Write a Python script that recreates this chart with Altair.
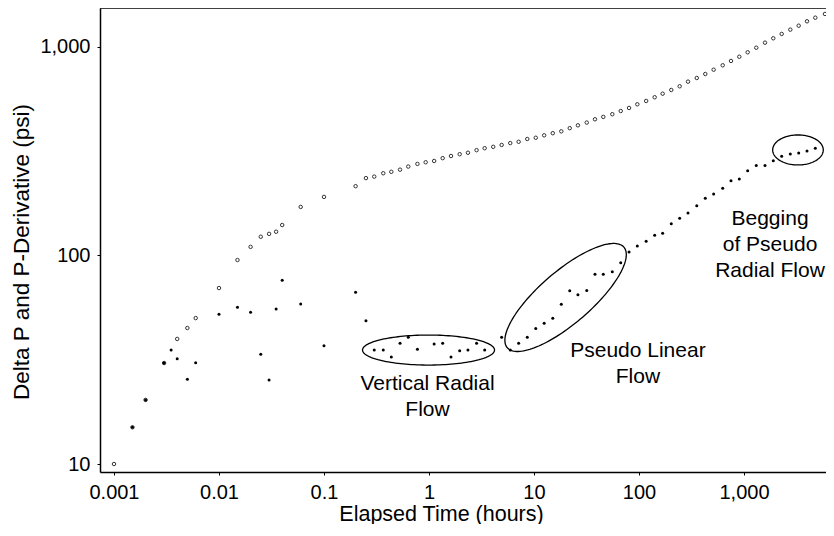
import altair as alt
import pandas as pd
import numpy as np

# ---- data ----
dp_time = [0.001, 0.0015, 0.002, 0.003, 0.004, 0.005, 0.006, 0.01, 0.015, 0.02, 0.025, 0.03,
           0.035, 0.04, 0.06, 0.1, 0.2, 0.251, 0.301, 0.367, 0.438, 0.530, 0.635, 0.776, 0.930,
           1.12, 1.35, 1.62, 1.96, 2.35, 2.84, 3.39, 4.09, 4.92, 5.94, 7.14, 8.63, 10.4, 12.5,
           15.1, 18.2, 21.9, 26.2, 31.8, 38.1, 45.7, 55.7, 67.0, 80.4, 96.4, 117, 141, 168, 203,
           244, 293, 355, 428, 514, 627, 752, 902, 1084, 1309, 1585, 1901, 2285, 2761, 3319,
           3981, 4776, 5902]
dp_values = [10, 15, 20.3, 30.5, 39.8, 44.9, 50.1, 69.8, 95.1, 110, 123, 127, 130, 140, 171,
             191, 215, 235, 239, 248, 252, 258, 267, 275, 280, 284, 293, 300, 306, 311, 320,
             327, 332, 339, 346, 351, 362, 367, 377, 386, 394, 408, 421, 434, 450, 462, 476,
             493, 510, 531, 551, 574, 597, 622, 648, 682, 710, 742, 778, 817, 857, 898, 943,
             992, 1049, 1101, 1155, 1211, 1265, 1328, 1382, 1440]

der_time = [0.0015, 0.002, 0.003, 0.0035, 0.004, 0.005, 0.006, 0.01, 0.015, 0.02, 0.025, 0.03,
            0.035, 0.04, 0.06, 0.1, 0.2, 0.251, 0.301, 0.367, 0.438, 0.530, 0.635, 0.776, 1.12,
            1.35, 1.62, 1.96, 2.35, 2.84, 3.39, 4.92, 5.94, 7.14, 8.63, 10.4, 12.5, 15.1, 18.2,
            21.9, 26.2, 31.8, 38.1, 45.7, 55.7, 67.0, 80.4, 96.4, 117, 141, 168, 203, 244, 293,
            355, 428, 514, 627, 752, 902, 1084, 1309, 1585, 1901, 2285, 2761, 3319, 3981, 4776]
der_values = [15, 20.3, 30.5, 35.2, 32.0, 25.5, 30.6, 52.2, 56.4, 53.4, 33.6, 25.3, 55.4, 76.0,
              58.5, 36.9, 66.6, 48.7, 35.2, 35.2, 32.6, 37.9, 40.5, 35.5, 37.6, 37.9, 32.6,
              34.9, 35.2, 37.9, 35.2, 40.5, 35.2, 37.9, 40.5, 44.6, 47.3, 50.0, 58.3, 67.8,
              64.9, 68.0, 81.2, 81.2, 83.6, 92.4, 104, 111, 117, 125, 128, 142, 151, 160, 173,
              188, 197, 210, 228, 233, 255, 270, 270, 285, 299, 307, 310, 317, 327]

x_ticks = [0.001, 0.01, 0.1, 1, 10, 100, 1000]
y_ticks = [10, 100, 1000]

label_text = ["Vertical Radial\nFlow", "Pseudo Linear\nFlow", "Begging\nof Pseudo\nRadial Flow"]
label_x = [0.968, 97.7, 1770]
label_y = [22.6, 32.7, 140]

ellipse_cx = [0.99, 20.0, 3266]
ellipse_cy = [35.2, 62.9, 320.7]
ellipse_a = [66, 77, 25.3]     # semi-axes in pixels
ellipse_b = [15, 26, 15]
ellipse_angle = [0, 40.8, 0]   # degrees

# ---- layout ----
W, H = 726, 464
X_DOMAIN = [0.000736, 6039]
Y_DOMAIN = [9.155, 1538]
FONT = "Liberation Sans"

pxx = W / (np.log10(X_DOMAIN[1]) - np.log10(X_DOMAIN[0]))
pxy = H / (np.log10(Y_DOMAIN[1]) - np.log10(Y_DOMAIN[0]))

rows = []
t = np.linspace(0, 2 * np.pi, 145)
for i in range(len(ellipse_cx)):
    th = np.radians(ellipse_angle[i])
    dx = ellipse_a[i] * np.cos(t) * np.cos(th) - ellipse_b[i] * np.sin(t) * np.sin(th)
    dy = ellipse_a[i] * np.cos(t) * np.sin(th) + ellipse_b[i] * np.sin(t) * np.cos(th)
    lx = np.log10(ellipse_cx[i]) + dx / pxx
    ly = np.log10(ellipse_cy[i]) + dy / pxy
    for k in range(len(t)):
        rows.append({"id": i, "k": k, "x": 10 ** lx[k], "y": 10 ** ly[k]})
ell_df = pd.DataFrame(rows)

dp_df = pd.DataFrame({"x": dp_time, "y": dp_values})
der_df = pd.DataFrame({"x": der_time, "y": der_values})
lab_df = pd.DataFrame({"x": label_x, "y": label_y, "text": label_text})

xscale = alt.Scale(type="log", domain=X_DOMAIN, nice=False)
yscale = alt.Scale(type="log", domain=Y_DOMAIN, nice=False)

x_axis = alt.Axis(values=x_ticks, format=",", title="Elapsed Time (hours)", grid=False,
                  tickSize=3, labelPadding=23, labelBaseline="alphabetic", labelFlush=False,
                  labelFontSize=20, labelFont=FONT, labelColor="black",
                  titleFont=FONT, titleFontSize=21.5, titleFontWeight="normal", titleColor="black",
                  titleX=341, titleY=48, titleBaseline="alphabetic", titleAlign="center",
                  domainColor="black", domainWidth=1.5, tickColor="black", tickWidth=1)
y_axis = alt.Axis(values=y_ticks, format=",", title="Delta P and P-Derivative (psi)", grid=False,
                  tickSize=3, labelPadding=7, labelFlush=False,
                  labelFontSize=20, labelFont=FONT, labelColor="black",
                  titleFont=FONT, titleFontSize=22.5, titleFontWeight="normal", titleColor="black",
                  titleX=-72, titleY=243.5, titleBaseline="alphabetic", titleAlign="center",
                  domainColor="black", domainWidth=1.5, tickColor="black", tickWidth=1)

dp_layer = alt.Chart(dp_df).mark_point(shape="circle", filled=False, size=12, strokeWidth=1,
                                       color="#333333", opacity=1).encode(
    x=alt.X("x:Q", scale=xscale, axis=x_axis),
    y=alt.Y("y:Q", scale=yscale, axis=y_axis),
)
der_layer = alt.Chart(der_df).mark_point(shape="circle", filled=True, size=9,
                                         color="black", opacity=1).encode(
    x=alt.X("x:Q", scale=xscale),
    y=alt.Y("y:Q", scale=yscale),
)
ell_layer = alt.Chart(ell_df).mark_line(color="black", strokeWidth=1.3).encode(
    x=alt.X("x:Q", scale=xscale),
    y=alt.Y("y:Q", scale=yscale),
    detail="id:N",
    order="k:Q",
)
lab_layer = alt.Chart(lab_df).mark_text(font=FONT, fontSize=21, align="center",
                                        baseline="alphabetic", lineBreak="\n",
                                        lineHeight=26, color="black").encode(
    x=alt.X("x:Q", scale=xscale),
    y=alt.Y("y:Q", scale=yscale),
    text="text:N",
)
top_border = alt.Chart(pd.DataFrame({"d": [0]})).mark_rule(color="black", strokeWidth=1.5).encode(
    x=alt.value(0), x2=alt.value(W), y=alt.value(0)
)

chart = alt.layer(dp_layer, der_layer, ell_layer, lab_layer, top_border).properties(
    width=W, height=H,
    autosize=alt.AutoSizeParams(type="none"),
    padding={"left": 92, "top": 0, "right": 0, "bottom": 52},
).configure_view(stroke=None)

chart.save("out.html", embed_options={"renderer": "svg", "actions": False})
